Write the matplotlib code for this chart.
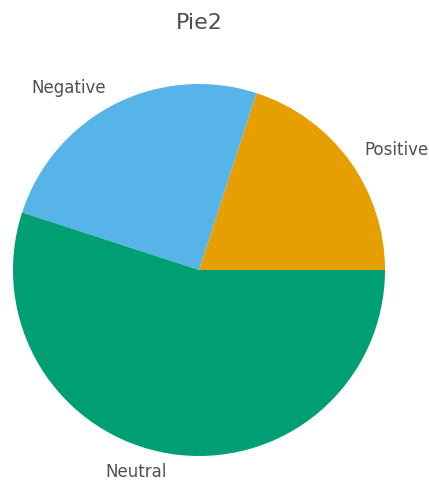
import matplotlib
matplotlib.use('Agg')
import matplotlib.pyplot as plt

labels = ['Positive', 'Negative', 'Neutral']
values = [20, 25, 55]
colors = ['#E69F00', '#56B4E9', '#009E73']

fig = plt.figure(figsize=(4.29, 4.83), dpi=100)
ax = fig.add_axes([13 / 429, 27 / 483, 372 / 429, 372 / 483])

ax.pie(values, labels=labels, colors=colors, startangle=0, counterclock=True,
       textprops={'color': '#505050', 'fontsize': 12})
ax.set_xlim(-1, 1)
ax.set_ylim(-1, 1)
ax.set_aspect('equal')

fig.text(199 / 429, 1 - 23 / 483, 'Pie2', ha='center', va='center',
         fontsize=16, color='#505050')

fig.savefig('out.png', dpi=100)
